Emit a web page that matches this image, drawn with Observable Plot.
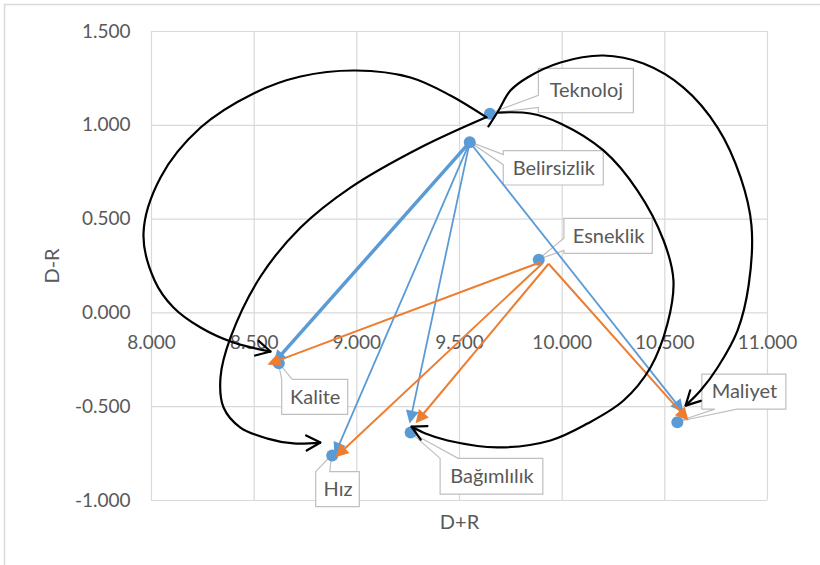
<!DOCTYPE html>
<html>
<head>
<meta charset="utf-8">
<script src="https://cdn.jsdelivr.net/npm/d3@7"></script>
<script src="https://cdn.jsdelivr.net/npm/@observablehq/plot@0.6"></script>
<style>
  html, body { margin: 0; padding: 0; background: #fff; }
  #chart { width: 820px; height: 565px; }
</style>
</head>
<body>
<div id="chart"></div>
<script>
// ---- Data: DEMATEL cause/effect diagram (D+R vs D-R) ----
const factors  = ["Teknoloj", "Belirsizlik", "Esneklik", "Kalite", "Hız", "Bağımlılık", "Maliyet"];
const dPlusR   = [9.648, 9.550, 9.886, 8.620, 8.880, 9.262, 10.561];
const dMinusR  = [1.061, 0.910, 0.283, -0.268, -0.760, -0.638, -0.583];

const xTicks = [8, 8.5, 9, 9.5, 10, 10.5, 11];
const yTicks = [-1, -0.5, 0, 0.5, 1, 1.5];

// Influences of Belirsizlik (blue): start and arrow tip, in D+R / D-R units
const blueTargets = ["Kalite", "Hız", "Bağımlılık", "Maliyet"];
const blueFrom = [[9.550, 0.910], [9.550, 0.910], [9.550, 0.910], [9.550, 0.910]];
const blueTo   = [[8.594, -0.269], [8.891, -0.760], [9.257, -0.590], [10.591, -0.531]];

// Influences of Esneklik (orange)
const orangeTargets = ["Kalite", "Hız", "Bağımlılık", "Maliyet"];
const orangeFrom = [[9.894, 0.270], [9.902, 0.262], [9.934, 0.262], [9.934, 0.262]];
const orangeTo   = [[8.565, -0.275], [8.896, -0.769], [9.286, -0.588], [10.615, -0.574]];

// Influences of Teknoloj (black curved connectors): traced path points per target
const curveTargets = ["Kalite", "Hız", "Maliyet", "Bağımlılık"];
const curvePaths = [
  [[9.632, 1.042], [9.456, 1.159], [9.261, 1.255], [8.994, 1.292], [8.726, 1.260], [8.497, 1.170],
   [8.239, 0.988], [8.044, 0.722], [7.961, 0.423], [8.015, 0.173], [8.107, 0.029], [8.239, -0.078],
   [8.399, -0.158], [8.580, -0.206]],
  [[9.627, 1.042], [9.310, 0.882], [8.969, 0.668], [8.726, 0.455], [8.531, 0.194], [8.385, -0.131],
   [8.336, -0.344], [8.351, -0.504], [8.433, -0.611], [8.565, -0.670], [8.692, -0.696], [8.823, -0.691]],
  [[9.641, 0.994], [9.690, 1.079], [9.748, 1.185], [9.831, 1.255], [9.992, 1.335], [10.201, 1.372],
   [10.396, 1.329], [10.591, 1.201], [10.757, 0.988], [10.869, 0.722], [10.922, 0.466], [10.908, 0.146],
   [10.854, -0.094], [10.757, -0.291], [10.674, -0.414], [10.601, -0.494]],
  [[9.690, 1.068], [9.846, 1.063], [9.992, 1.010], [10.201, 0.866], [10.367, 0.652], [10.494, 0.386],
   [10.542, 0.173], [10.513, -0.057], [10.430, -0.291], [10.299, -0.467], [10.123, -0.590], [9.943, -0.680],
   [9.685, -0.717], [9.442, -0.680], [9.334, -0.643], [9.266, -0.606]]
];

// ---- Layout & style ----
const W = 820, H = 565;
const M = {top: 31, right: 53, bottom: 65, left: 151};
const xDomain = [8, 11], yDomain = [-1, 1.5];
const BLUE = "#5b9bd5", ORANGE = "#ed7d31", GRID = "#d9d9d9", TEXT = "#595959", BOX = "#bfbfbf";
const FONT = "Lato, 'Open Sans', sans-serif";
const HEAD_LEN = 13, HEAD_HALF = 6.5;                 // filled triangle heads
const CHEV_LEN = 16, CHEV_ANGLE = 28 * Math.PI / 180; // open chevron heads

// Callout boxes, in pixels relative to the point: [left, top, right, bottom],
// plus the edge carrying the pointer and the pointer's base span along that edge.
const callout = {
  "Teknoloj":    {box: [49, -45, 144, -0.6],   side: "left",   base: [-18, -6]},
  "Belirsizlik": {box: [34, 9, 134, 43.3],     side: "left",   base: [13, 23]},
  "Esneklik":    {box: [25.7, -41, 114, -6],   side: "left",   base: [-21, -9]},
  "Kalite":      {box: [3.4, 16.6, 69.4, 51.6], side: "top",   base: [3.4, 14]},
  "Hız":         {box: [-16, 16.7, 27.6, 51.7], side: "top",   base: [-16, -2]},
  "Bağımlılık":  {box: [30, 26.3, 132.7, 62],  side: "top",    base: [30, 48]},
  "Maliyet":     {box: [25, -47.7, 109, -12.7], side: "bottom", base: [38, 60]}
};

const points = factors.map((name, i) => ({name, x: dPlusR[i], y: dMinusR[i]}));

// Pixel scales identical to the plot's x and y scales (used to shape arrowheads)
const xs = d3.scaleLinear(xDomain, [M.left, W - M.right]);
const ys = d3.scaleLinear(yDomain, [H - M.bottom, M.top]);
const toPx = ([a, b]) => [xs(a), ys(b)];
const toData = ([px, py]) => [xs.invert(px), ys.invert(py)];
const unit = (a, b) => { const dx = b[0] - a[0], dy = b[1] - a[1], n = Math.hypot(dx, dy); return [dx / n, dy / n]; };

function triangleHead(id, from, to) {
  const P0 = toPx(from), P1 = toPx(to);
  const [ux, uy] = unit(P0, P1);
  const bx = P1[0] - HEAD_LEN * ux, by = P1[1] - HEAD_LEN * uy;
  const poly = [P1, [bx - HEAD_HALF * uy, by + HEAD_HALF * ux], [bx + HEAD_HALF * uy, by - HEAD_HALF * ux]];
  const base = toData([bx + 2 * ux, by + 2 * uy]);
  return {
    link: {x1: from[0], y1: from[1], x2: base[0], y2: base[1], id},
    rows: poly.map(p => { const [x, y] = toData(p); return {id, x, y}; })
  };
}

function chevron(id, prev, tip) {
  const P0 = toPx(prev), P1 = toPx(tip);
  const [ux, uy] = unit(P0, P1);
  const rot = a => [ux * Math.cos(a) - uy * Math.sin(a), ux * Math.sin(a) + uy * Math.cos(a)];
  const [r1x, r1y] = rot(CHEV_ANGLE), [r2x, r2y] = rot(-CHEV_ANGLE);
  return [[P1[0] - CHEV_LEN * r1x, P1[1] - CHEV_LEN * r1y], P1, [P1[0] - CHEV_LEN * r2x, P1[1] - CHEV_LEN * r2y]]
    .map(p => { const [x, y] = toData(p); return {id, x, y}; });
}

const blueHeads = blueTargets.map((t, i) => triangleHead("B-" + t, blueFrom[i], blueTo[i]));
const orangeHeads = orangeTargets.map((t, i) => triangleHead("E-" + t, orangeFrom[i], orangeTo[i]));
const curveRows = curveTargets.flatMap((t, i) => curvePaths[i].map(([x, y]) => ({id: t, x, y})));
const chevronRows = curveTargets.flatMap((t, i) => {
  const p = curvePaths[i];
  return chevron(t, p[p.length - 2], p[p.length - 1]);
});

// Outer chart border (top and left edges visible)
function border() {
  return d3.create("svg:path")
    .attr("d", `M4.5,${H}V4.5H${W}`)
    .attr("fill", "none").attr("stroke", GRID).attr("stroke-width", 1.5)
    .node();
}

// White label boxes with a pointer toward their point
function callouts(index, scales) {
  const g = d3.create("svg:g").attr("fill", "white").attr("stroke", BOX).attr("stroke-width", 1.2);
  for (const p of points) {
    const c = callout[p.name];
    const cx = scales.x(p.x), cy = scales.y(p.y);
    const l = cx + c.box[0], t = cy + c.box[1], r = cx + c.box[2], b = cy + c.box[3];
    const [a1, a2] = c.base;
    let d;
    if (c.side === "left") d = `M${l},${t}H${r}V${b}H${l}V${cy + a2}L${cx},${cy}L${l},${cy + a1}Z`;
    else if (c.side === "top") d = `M${l},${t}H${cx + a1}L${cx},${cy}L${cx + a2},${t}H${r}V${b}H${l}Z`;
    else d = `M${l},${t}H${r}V${b}H${cx + a2}L${cx},${cy}L${cx + a1},${b}H${l}Z`;
    g.append("path").attr("d", d);
  }
  return g.node();
}

// Tick labels with three decimals and a plain hyphen for negatives
const fmt = d => d.toFixed(3);

const chart = Plot.plot({
  width: W, height: H,
  marginTop: M.top, marginRight: M.right, marginBottom: M.bottom, marginLeft: M.left,
  x: {domain: xDomain, range: [M.left, W - M.right], axis: null},
  y: {domain: yDomain, range: [H - M.bottom, M.top], axis: null},
  style: {fontFamily: FONT, background: "white", overflow: "visible"},
  marks: [
    border,
    Plot.ruleX(xTicks, {stroke: GRID, strokeWidth: 1.2}),
    Plot.ruleY(yTicks, {stroke: GRID, strokeWidth: 1.2}),
    Plot.text(xTicks, {x: d => d, y: 0, dy: 30, text: fmt, fill: TEXT, fontSize: 19}),
    Plot.text(yTicks, {x: 8, y: d => d, dx: -21, text: fmt, textAnchor: "end", fill: TEXT, fontSize: 19}),
    Plot.text(["D+R"], {x: 9.5, y: -1, dy: 22, text: d => d, fill: TEXT, fontSize: 20}),
    Plot.text(["D-R"], {x: 8, y: 0.25, dx: -99, rotate: -90, text: d => d, fill: TEXT, fontSize: 20}),
    callouts,
    Plot.dot(points, {x: "x", y: "y", r: 6, fill: BLUE}),
    ...points.map(p => {
      const c = callout[p.name];
      return Plot.text([p], {
        x: "x", y: "y", text: "name",
        dx: (c.box[0] + c.box[2]) / 2, dy: (c.box[1] + c.box[3]) / 2,
        fill: TEXT, fontSize: 20
      });
    }),
    // Belirsizlik influences
    Plot.link(blueHeads.map(h => h.link).filter(l => l.id === "B-Kalite"),
      {x1: "x1", y1: "y1", x2: "x2", y2: "y2", stroke: BLUE, strokeWidth: 3.5}),
    Plot.link(blueHeads.map(h => h.link).filter(l => l.id !== "B-Kalite"),
      {x1: "x1", y1: "y1", x2: "x2", y2: "y2", stroke: BLUE, strokeWidth: 1.8}),
    Plot.line(blueHeads.flatMap(h => h.rows), {x: "x", y: "y", z: "id", fill: BLUE, stroke: "none"}),
    // Esneklik influences
    Plot.link(orangeHeads.map(h => h.link),
      {x1: "x1", y1: "y1", x2: "x2", y2: "y2", stroke: ORANGE, strokeWidth: 2}),
    Plot.line(orangeHeads.flatMap(h => h.rows), {x: "x", y: "y", z: "id", fill: ORANGE, stroke: "none"}),
    // Teknoloj influences
    Plot.line(curveRows, {x: "x", y: "y", z: "id", curve: "catmull-rom", stroke: "black", strokeWidth: 2.2}),
    Plot.line(chevronRows, {x: "x", y: "y", z: "id", stroke: "black", strokeWidth: 2.2, strokeLinejoin: "miter"})
  ]
});

document.getElementById("chart").append(chart);
</script>
</body>
</html>
